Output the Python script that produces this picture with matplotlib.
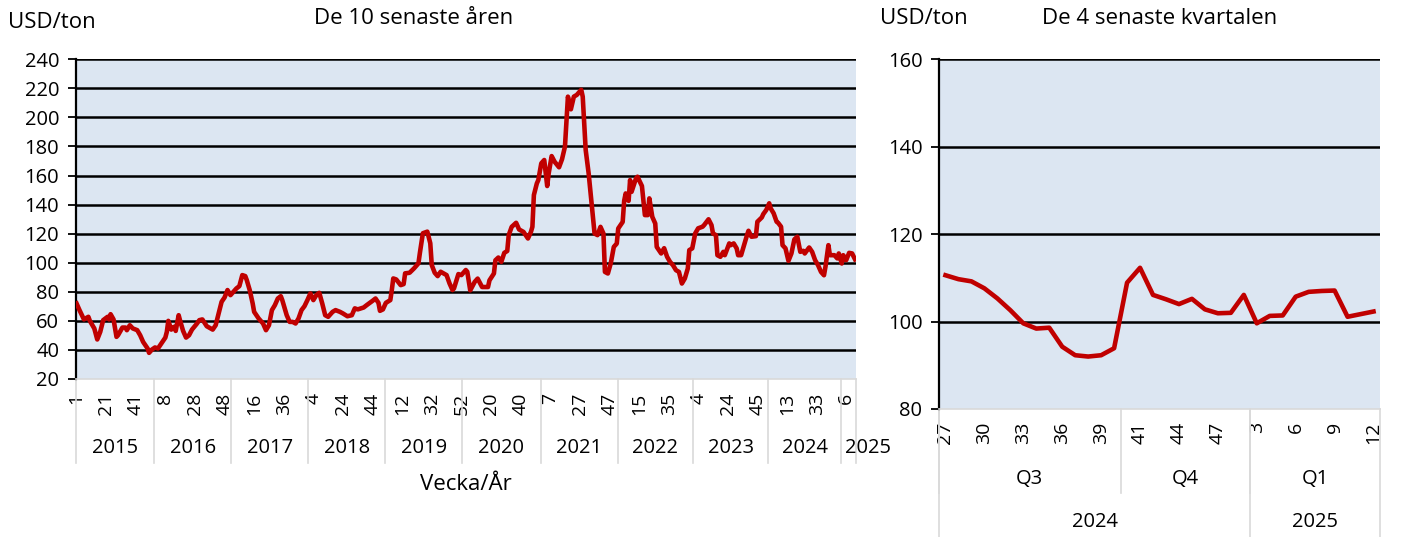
import matplotlib
matplotlib.use("Agg")
import matplotlib.pyplot as plt
from matplotlib.lines import Line2D

plt.rcParams['font.family'] = ['Open Sans', 'DejaVu Sans']

# ---------------- data: left panel (10 years, weekly) ----------------
years_left = [2015, 2016, 2017, 2018, 2019, 2020, 2021, 2022, 2023, 2024, 2025]
weeks_2015 = list(range(1, 54))
weeks_2016 = list(range(1, 53))
weeks_2017 = list(range(1, 53))
weeks_2018 = list(range(1, 53))
weeks_2019 = list(range(1, 53))
weeks_2020 = list(range(1, 54))
weeks_2021 = list(range(1, 53))
weeks_2022 = list(range(1, 52))
weeks_2023 = [w for w in range(1, 53) if w != 30]
weeks_2024 = list(range(1, 48)) + [49, 51]
weeks_2025 = list(range(3, 13))
weeks_left = [weeks_2015, weeks_2016, weeks_2017, weeks_2018, weeks_2019, weeks_2020,
              weeks_2021, weeks_2022, weeks_2023, weeks_2024, weeks_2025]

# observation position (week number counted along the series) and price, USD/ton
obs_pos = [0, 2, 5, 8, 9, 12, 14, 16, 18, 21, 22, 23, 25, 27, 28, 31, 33, 34, 36, 38,
           41, 43, 45, 48, 49, 51, 53, 55, 57, 60, 61, 62, 64, 66, 67, 69, 70, 72, 74, 76,
           78, 81, 83, 85, 88, 92, 94, 96, 98, 100, 102, 104, 106, 108, 110, 112, 114, 115, 117, 119,
           120, 123, 126, 128, 130, 132, 134, 136, 138, 139, 142, 144, 146, 148, 150, 152, 154, 156, 158, 160,
           162, 164, 166, 168, 170, 173, 175, 178, 180, 183, 186, 188, 190, 194, 196, 200, 202, 204, 205, 207,
           209, 212, 213, 214, 216, 219, 221, 222, 225, 228, 231, 232, 234, 237, 239, 240, 242, 244, 246, 250,
           252, 254, 255, 258, 260, 263, 264, 266, 269, 271, 274, 278, 279, 282, 283, 285, 287, 289, 291, 292,
           294, 297, 299, 302, 305, 307, 308, 309, 311, 312, 314, 316, 318, 319, 321, 323, 326, 328, 330, 332,
           334, 336, 338, 341, 342, 344, 346, 348, 350, 352, 354, 356, 357, 359, 361, 363, 365, 366, 369, 370,
           371, 373, 374, 375, 378, 379, 382, 384, 386, 387, 389, 391, 392, 395, 397, 399, 401, 403, 405, 407,
           409, 411, 413, 414, 416, 418, 420, 423, 424, 427, 429, 430, 432, 433, 435, 437, 438, 441, 442, 444,
           446, 447, 449, 451, 453, 454, 456, 459, 460, 463, 464, 466, 468, 469, 471, 473, 474, 476, 477, 479,
           481, 483, 485, 487, 489, 491, 492, 495, 497, 499, 501, 503, 505, 506, 508, 509, 512, 514, 515, 517,
           518, 520, 522, 524, 526]
obs_val = [72.0, 67.4, 61, 62.8, 60, 54.8, 47.2, 52.4, 60.5, 62.8, 61, 64.6, 61, 49, 50.1, 55.4, 55.4, 53.6, 57, 54.8,
           53.6, 50.1, 45.5, 41, 38, 40.3, 41.7, 41, 44, 48.5, 52.4, 60, 54, 55.9, 53.1, 63.9, 60, 53.1, 48.5, 50.1,
           54, 57.7, 60.5, 61, 56.3, 54, 57, 65.1, 73.1, 76.1, 81.2, 77.7, 80, 82.3, 83.9, 91.5, 90.8, 88.1, 81.2, 72,
           66.2, 61.7, 58.2, 53.6, 57, 67.4, 70.8, 75.4, 77, 74.3, 63.9, 59.3, 59.3, 58.2, 61.7, 67.4, 70.1, 74.3, 78.9, 74.3,
           77.7, 79.3, 72, 63.9, 62.8, 66.2, 67.4, 66.2, 65.1, 63.2, 63.9, 68.6, 67.9, 69.2, 70.8, 73.8, 75.4, 72.4, 66.9, 67.9,
           72.4, 74.3, 81.2, 89.2, 88.5, 84.6, 85.3, 92.7, 93.1, 96.1, 99.6, 106.9, 120.3, 121.4, 113.4, 98.4, 93.1, 90.8, 93.8, 91.5,
           85.8, 81.2, 82.3, 92.2, 91.5, 95, 93.8, 81, 86.8, 89.1, 83.3, 83.3, 87.9, 92.6, 101.7, 103.6, 100.6, 106.8, 108.1, 119,
           124.7, 127.5, 122.9, 121.2, 116.7, 121.2, 124.7, 146.6, 154.6, 156.9, 168.4, 170.7, 152.8, 161.5, 173.4, 169.5, 165.7, 171.2, 179.9, 214.3,
           205.6, 214.3, 215.5, 219, 214.3, 177.6, 161.5, 140.8, 120.1, 119, 124.7, 120.1, 93.7, 92.6, 99.9, 110.9, 113.2, 123.6, 128.1, 142.6,
           147.7, 142.6, 156.9, 148.8, 158.1, 159.2, 152.8, 132.8, 132.8, 144.3, 131.6, 127, 110.9, 106.4, 110, 104.1, 100.6, 98.3, 94.9, 93.7,
           85.7, 89.2, 96.1, 108.7, 109.9, 120.2, 123.7, 124.8, 125.9, 129.9, 125.9, 120.2, 119, 105.2, 104.1, 107.5, 105.2, 113.3, 112.1, 113.3,
           109.9, 105.2, 105.2, 112.1, 119, 122, 117.9, 118.3, 128.2, 131.2, 133.5, 136.3, 140.9, 137.4, 134, 128.2, 127.5, 124.8, 112.1, 109.9,
           101.3, 106.4, 116.1, 117.9, 107.5, 108.2, 106.4, 110.5, 107.5, 101.8, 98.3, 93.7, 91.4, 97.2, 112.1, 105.2, 105.2, 103, 106.4, 99.5,
           105.2, 101.8, 106.8, 106.4, 102.3]

# ---------------- data: right panel (last 4 quarters) ----------------
quarters_right = ['Q3', 'Q4', 'Q1']
years_right = ['2024', '2025']
weeks_q3 = [27, 28, 29, 30, 31, 32, 33, 34, 35, 36, 37, 38, 39, 40]
weeks_q4 = [40, 41, 42, 43, 44, 45, 46, 47, 49, 51]
weeks_q1 = [3, 4, 5, 6, 7, 8, 9, 10, 11, 12]
values_right = [110.6, 109.7, 109.2, 107.6, 105.3, 102.6, 99.6, 98.4, 98.6, 94.25,
                92.3, 92.0, 92.3, 93.9, 108.9, 112.3, 106.1, 105.1, 104.0, 105.2,
                102.8, 101.9, 102.0, 106.1, 99.6, 101.3, 101.4, 105.7, 106.8, 107.0,
                107.1, 101.1, 101.7, 102.3]

left_yticks = list(range(20, 241, 20))
right_yticks = [80, 100, 120, 140, 160]

# ---------------- styling ----------------
W, H = 1424, 537
BG = '#DCE6F2'
RED = '#C00000'
DIV = '#D9D9D9'
FS = 14.5
LW = 3.3

fig = plt.figure(figsize=(W / 100, H / 100), dpi=100)


def px_axes(x0, y0, x1, y1):
    return fig.add_axes([x0 / W, 1 - y1 / H, (x1 - x0) / W, (y1 - y0) / H])


def style_axes(ax, yticks):
    ax.set_facecolor(BG)
    ax.set_ylim(yticks[0], yticks[-1])
    ax.set_yticks(yticks)
    for y in yticks[1:]:
        ax.axhline(y, color='black', lw=1.8, zorder=1)
    for s in ['top', 'right']:
        ax.spines[s].set_visible(False)
    ax.spines['left'].set_color('black')
    ax.spines['left'].set_linewidth(1.6)
    ax.spines['bottom'].set_color(DIV)
    ax.spines['bottom'].set_linewidth(1.2)
    ax.tick_params(axis='y', direction='out', length=6, width=1.3, labelsize=FS, pad=6)
    ax.tick_params(axis='x', length=0, labelsize=FS - 0.5, labelrotation=90)


# ---------------- left panel ----------------
axL = px_axes(75.8, 59.3, 855.8, 379)
style_axes(axL, left_yticks)

cat_labels = []
year_bounds = []
start = 0
for yr, wk in zip(years_left, weeks_left):
    cat_labels += [str(w) for w in wk]
    year_bounds.append((yr, start, start + len(wk)))
    start += len(wk)
n_left = len(cat_labels)
axL.set_xlim(-0.5, n_left - 0.5)
axL.plot(obs_pos, obs_val, color=RED, lw=LW, zorder=3, solid_joinstyle='round')

tick_idx = list(range(0, n_left, 20))
axL.set_xticks(tick_idx)
axL.set_xticklabels([cat_labels[i] for i in tick_idx])
axL.tick_params(axis='x', pad=10)

hL = 379 - 59.3
trL = axL.get_xaxis_transform()
for yr, s, e in year_bounds:
    axL.add_line(Line2D([s - 0.5, s - 0.5], [0, -84 / hL], transform=trL, color=DIV, lw=1.2, clip_on=False))
    if yr == 2025:
        axL.text(s - 0.5 + 3, -69 / hL, str(yr), transform=trL, ha='left', va='center', fontsize=FS)
    else:
        axL.text((s + e - 1) / 2, -69 / hL, str(yr), transform=trL, ha='center', va='center', fontsize=FS)
axL.add_line(Line2D([n_left - 0.5, n_left - 0.5], [0, -84 / hL], transform=trL, color=DIV, lw=1.2, clip_on=False))
axL.text(0.5, -106 / hL, 'Vecka/År', transform=axL.transAxes, ha='center', va='center', fontsize=FS + 1.5)

# ---------------- right panel ----------------
axR = px_axes(939, 59.3, 1380, 409)
style_axes(axR, right_yticks)
week_groups = [weeks_q3, weeks_q4, weeks_q1]
labels_r = [str(w) for g in week_groups for w in g]
n_r = len(labels_r)
axR.set_xlim(-0.5, n_r - 0.5)
axR.plot(range(n_r), values_right, color=RED, lw=LW, zorder=3, solid_joinstyle='round')
tick_r = list(range(0, n_r, 3))
axR.set_xticks(tick_r)
axR.set_xticklabels([labels_r[i] for i in tick_r])
axR.tick_params(axis='x', pad=9)

hR = 409 - 59.3
trR = axR.get_xaxis_transform()
q_bounds = []
s = 0
for q, g in zip(quarters_right, week_groups):
    q_bounds.append((q, s, s + len(g)))
    s += len(g)
for q, s0, e0 in q_bounds:
    axR.text((s0 + e0 - 1) / 2, -70 / hR, q, transform=trR, ha='center', va='center', fontsize=FS)
    axR.add_line(Line2D([s0 - 0.5, s0 - 0.5], [0, -84 / hR], transform=trR, color=DIV, lw=1.2, clip_on=False))
yr_bounds = [(years_right[0], 0, len(weeks_q3) + len(weeks_q4)),
             (years_right[1], len(weeks_q3) + len(weeks_q4), n_r)]
for yr, s0, e0 in yr_bounds:
    axR.text((s0 + e0 - 1) / 2, -113 / hR, yr, transform=trR, ha='center', va='center', fontsize=FS)
    axR.add_line(Line2D([s0 - 0.5, s0 - 0.5], [0, -128 / hR], transform=trR, color=DIV, lw=1.2, clip_on=False))
axR.add_line(Line2D([n_r - 0.5, n_r - 0.5], [0, -128 / hR], transform=trR, color=DIV, lw=1.2, clip_on=False))

# ---------------- titles ----------------
fig.text(8 / W, 1 - 22 / H, 'USD/ton', ha='left', va='center', fontsize=FS + 1.5)
fig.text(414 / W, 1 - 18 / H, 'De 10 senaste åren', ha='center', va='center', fontsize=FS + 1.5)
fig.text(880 / W, 1 - 18 / H, 'USD/ton', ha='left', va='center', fontsize=FS + 1.5)
fig.text(1160 / W, 1 - 18 / H, 'De 4 senaste kvartalen', ha='center', va='center', fontsize=FS + 1.5)

fig.savefig('out.png', dpi=100)
